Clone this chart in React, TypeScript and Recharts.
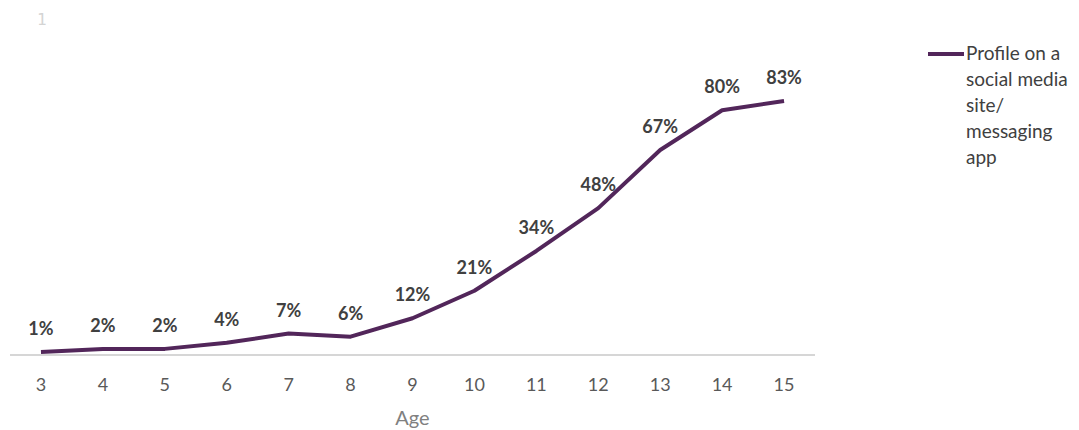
import React from 'react';
import { LineChart, Line, XAxis, YAxis, LabelList } from 'recharts';

const ages = [3, 4, 5, 6, 7, 8, 9, 10, 11, 12, 13, 14, 15];
const profileShare = [1, 2, 2, 4, 7, 6, 12, 21, 34, 48, 67, 80, 83];
const seriesName = 'Profile on a social media site/ messaging app';
const legendLines = ['Profile on a', 'social media', 'site/', 'messaging', 'app'];

const data = ages.map((age, i) => ({ age, value: profileShare[i] }));

const PURPLE = '#52265a';
const FONT = 'Lato, "Open Sans", sans-serif';

const LegendBox = () => (
  <div
    title={seriesName}
    style={{ position: 'absolute', left: 928, top: 40, display: 'flex', alignItems: 'flex-start', fontFamily: FONT, color: '#404040', fontSize: 19 }}
  >
    <div style={{ width: 36, height: 4, background: PURPLE, marginTop: 12 }} />
    <div style={{ lineHeight: '26px', marginLeft: 2 }}>
      {legendLines.map((t) => (
        <div key={t}>{t}</div>
      ))}
    </div>
  </div>
);

export default function App() {
  return (
    <div style={{ position: 'absolute', left: 0, top: 0, width: 1079, height: 430, background: '#fff' }}>
      <div style={{ position: 'absolute', left: 37, top: 10, fontFamily: 'DejaVu Sans Mono, monospace', fontSize: 16, color: '#d4d4d4' }}>1</div>
      <LineChart width={1079} height={430} data={data} margin={{ top: 49, right: 264, bottom: 0, left: 10 }}>
        <XAxis
          dataKey="age"
          type="number"
          domain={[2.5, 15.5]}
          ticks={ages}
          height={75}
          tickLine={false}
          axisLine={{ stroke: '#c8c8c8', strokeWidth: 1.5 }}
          tick={{ fill: '#595959', fontSize: 18, fontFamily: FONT }}
          tickMargin={17}
          label={{ value: 'Age', position: 'insideBottom', offset: 5, fill: '#808080', fontSize: 20, fontFamily: FONT }}
        />
        <YAxis hide domain={[0, 100]} />
        <Line
          name={seriesName}
          dataKey="value"
          type="linear"
          stroke={PURPLE}
          strokeWidth={4}
          strokeLinejoin="round"
          dot={false}
          isAnimationActive={false}
        >
          <LabelList
            dataKey="value"
            position="top"
            offset={17}
            formatter={(v: any) => `${v}%`}
            style={{ fill: '#404040', fontSize: 18, fontWeight: 700, fontFamily: FONT }}
          />
        </Line>
      </LineChart>
      <LegendBox />
    </div>
  );
}
